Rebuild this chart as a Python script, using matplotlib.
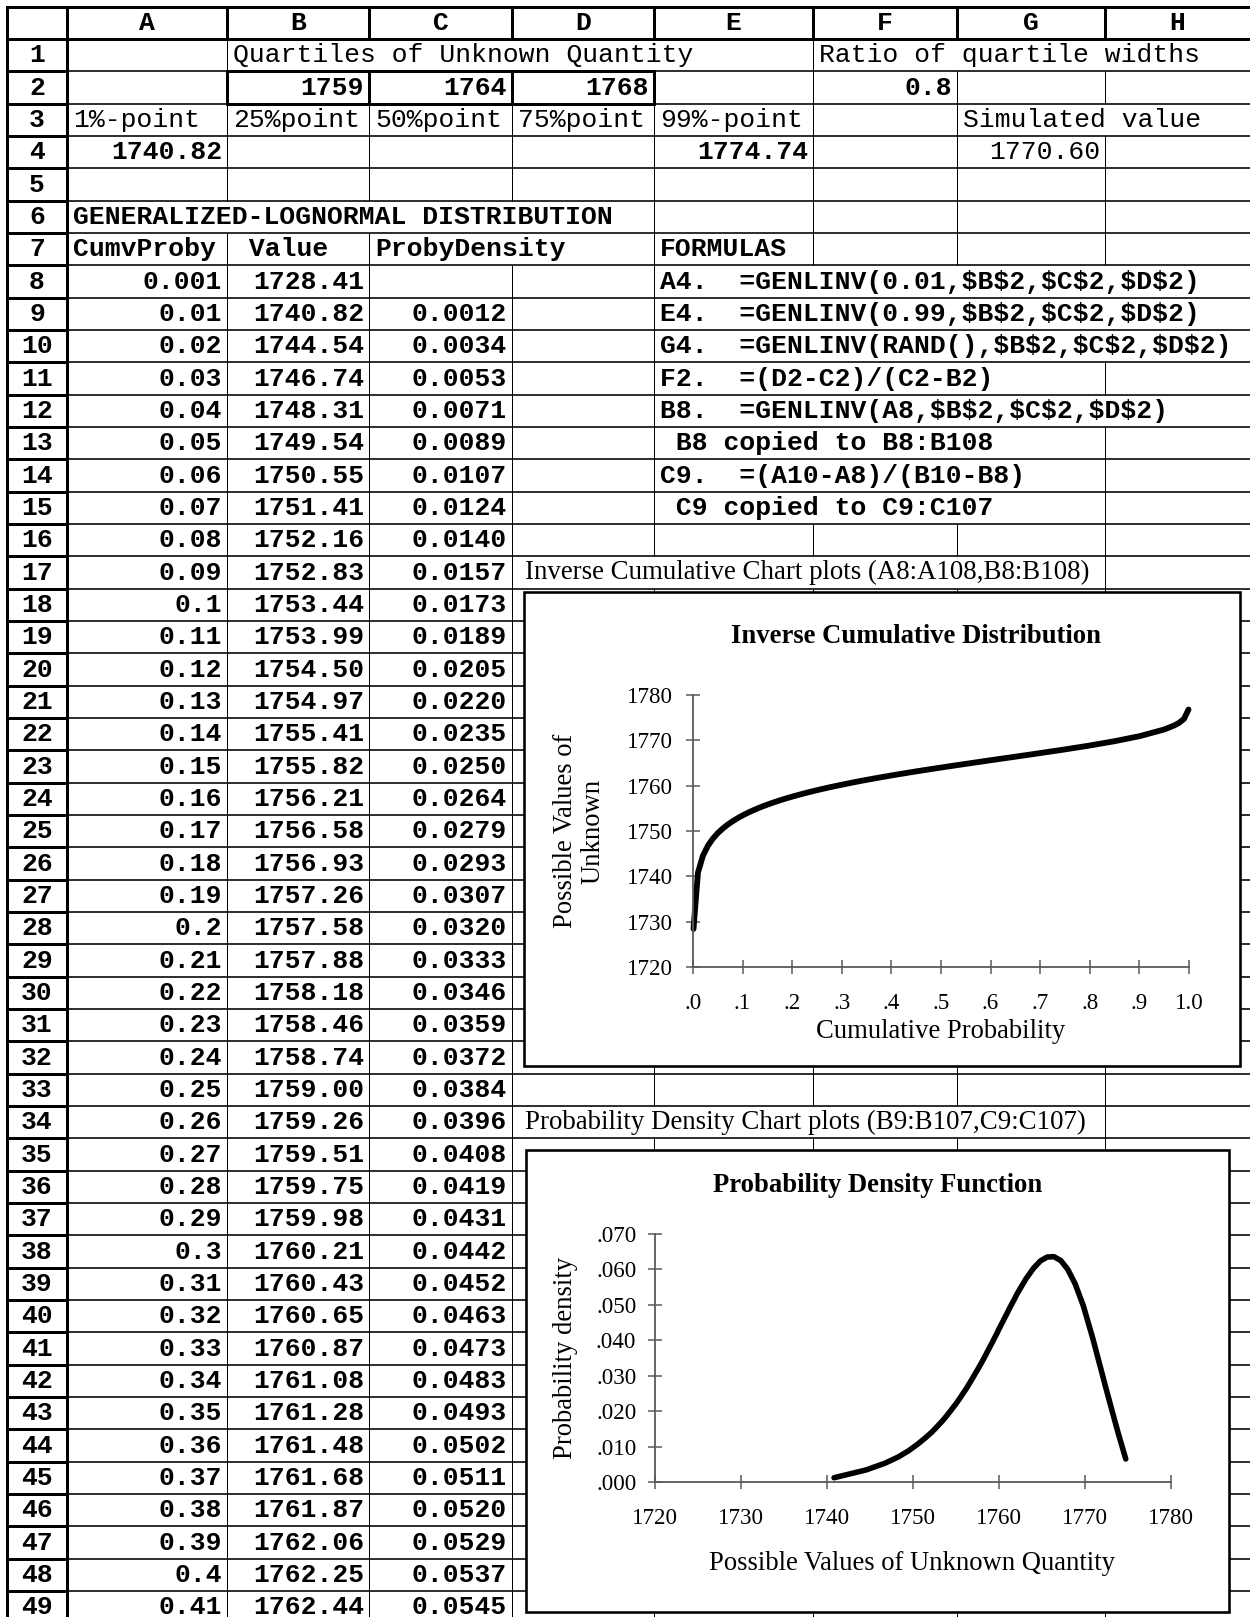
import matplotlib
matplotlib.use("Agg")
import matplotlib.pyplot as plt
from matplotlib.patches import Rectangle
from matplotlib.collections import LineCollection

# ---------------- data ----------------
col_letters = ["A", "B", "C", "D", "E", "F", "G", "H"]
quartile_values = [1759, 1764, 1768]          # B2:D2
ratio_quartile_widths = 0.8                   # F2
point_labels = ["1%-point", "25%point", "50%point", "75%point", "99%-point"]
one_pct_point = "1740.82"                     # A4
ninety_nine_pct_point = "1774.74"             # E4
simulated_value = "1770.60"                   # G4
table_headers = ["CumvProby", " Value", "ProbyDensity"]

cum_prob = [0.001, 0.01, 0.02, 0.03, 0.04, 0.05, 0.06, 0.07, 0.08, 0.09, 0.1,
            0.11, 0.12, 0.13, 0.14, 0.15, 0.16, 0.17, 0.18, 0.19, 0.2,
            0.21, 0.22, 0.23, 0.24, 0.25, 0.26, 0.27, 0.28, 0.29, 0.3,
            0.31, 0.32, 0.33, 0.34, 0.35, 0.36, 0.37, 0.38, 0.39, 0.4, 0.41]
values = [1728.41, 1740.82, 1744.54, 1746.74, 1748.31, 1749.54, 1750.55, 1751.41,
          1752.16, 1752.83, 1753.44, 1753.99, 1754.50, 1754.97, 1755.41, 1755.82,
          1756.21, 1756.58, 1756.93, 1757.26, 1757.58, 1757.88, 1758.18, 1758.46,
          1758.74, 1759.00, 1759.26, 1759.51, 1759.75, 1759.98, 1760.21, 1760.43,
          1760.65, 1760.87, 1761.08, 1761.28, 1761.48, 1761.68, 1761.87, 1762.06,
          1762.25, 1762.44]
density = [0.0012, 0.0034, 0.0053, 0.0071, 0.0089, 0.0107, 0.0124, 0.0140, 0.0157,
           0.0173, 0.0189, 0.0205, 0.0220, 0.0235, 0.0250, 0.0264, 0.0279, 0.0293,
           0.0307, 0.0320, 0.0333, 0.0346, 0.0359, 0.0372, 0.0384, 0.0396, 0.0408,
           0.0419, 0.0431, 0.0442, 0.0452, 0.0463, 0.0473, 0.0483, 0.0493, 0.0502,
           0.0511, 0.0520, 0.0529, 0.0537, 0.0545]   # rows 9..49

# chart points beyond the visible table rows
upper_cum_prob = [0.45, 0.50, 0.55, 0.60, 0.65, 0.70, 0.75, 0.80, 0.85, 0.90,
                  0.95, 0.97, 0.98, 0.99, 0.999]
upper_values = [1763.15, 1764.00, 1764.81, 1765.61, 1766.39, 1767.19, 1768.00,
                1768.86, 1769.81, 1770.91, 1772.39, 1773.27, 1773.86, 1774.74,
                1776.80]
upper_density = [0.0574, 0.0603, 0.0624, 0.0635, 0.0636, 0.0625, 0.0600, 0.0559,
                 0.0497, 0.0405, 0.0269, 0.0190, 0.0138, 0.0065]

formula_lines = ["A4.  =GENLINV(0.01,$B$2,$C$2,$D$2)",
                 "E4.  =GENLINV(0.99,$B$2,$C$2,$D$2)",
                 "G4.  =GENLINV(RAND(),$B$2,$C$2,$D$2)",
                 "F2.  =(D2-C2)/(C2-B2)",
                 "B8.  =GENLINV(A8,$B$2,$C$2,$D$2)",
                 " B8 copied to B8:B108",
                 "C9.  =(A10-A8)/(B10-B8)",
                 " C9 copied to C9:C107"]

inv_xticks = [0.0, 0.1, 0.2, 0.3, 0.4, 0.5, 0.6, 0.7, 0.8, 0.9, 1.0]
inv_xtick_labels = [".0", ".1", ".2", ".3", ".4", ".5", ".6", ".7", ".8", ".9", "1.0"]
inv_yticks = [1720, 1730, 1740, 1750, 1760, 1770, 1780]
pdf_xticks = [1720, 1730, 1740, 1750, 1760, 1770, 1780]
pdf_yticks = [0.0, 0.01, 0.02, 0.03, 0.04, 0.05, 0.06, 0.07]
pdf_ytick_labels = [".000", ".010", ".020", ".030", ".040", ".050", ".060", ".070"]

# ---------------- layout ----------------
W, H = 1250, 1617
PT = 0.72  # points per pixel at 100 dpi
plt.rcParams["font.family"] = ["Liberation Serif", "DejaVu Serif"]
MONO = ["Liberation Mono", "DejaVu Sans Mono"]
MFS = 19

fig = plt.figure(figsize=(W / 100, H / 100), dpi=100)
bg = fig.add_axes([0, 0, 1, 1])
bg.set_xlim(0, W)
bg.set_ylim(H, 0)
bg.axis("off")

col_edges = [7, 67, 227, 369, 512, 654, 813, 957, 1105, 1250]
RH = 32.33
NROWS = 49


def row_top(r):
    return 7 if r == 0 else 39 + RH * (r - 1)


def row_bot(r):
    return 39 if r == 0 else 39 + RH * r


# vertical boundaries hidden by overflowing text  (row -> boundary indices)
hidden = {1: {3, 4, 5, 7, 8}, 3: {8}, 6: {2, 3, 4}, 7: {4},
          8: {6, 7, 8}, 9: {6, 7, 8}, 10: {6, 7, 8}, 11: {6, 7}, 12: {6, 7, 8},
          13: {6, 7}, 14: {6, 7}, 15: {6, 7}, 17: {5, 6, 7}, 34: {5, 6, 7}}

thin_v, thin_h, thick = [], [], []
for r in range(1, NROWS + 1):
    y0, y1 = row_top(r), min(row_bot(r), H)
    for j in range(2, 9):
        if j in hidden.get(r, set()):
            continue
        thin_v.append([(col_edges[j], y0), (col_edges[j], y1)])
    thin_h.append([(col_edges[1], row_bot(r)), (W, row_bot(r))])
    thick.append([(col_edges[0], row_bot(r)), (col_edges[1], row_bot(r))])
# header row
for j in range(2, 9):
    thick.append([(col_edges[j], 7), (col_edges[j], 39)])
thick.append([(col_edges[0], 7), (W, 7)])
thick.append([(col_edges[0], 39), (W, 39)])
thick.append([(col_edges[0], 7), (col_edges[0], H)])
thick.append([(col_edges[1], 7), (col_edges[1], H)])
# B2:D2 boxes
thick.append([(col_edges[2], row_top(2)), (col_edges[5], row_top(2))])
thick.append([(col_edges[2], row_bot(2)), (col_edges[5], row_bot(2))])
for j in range(2, 6):
    thick.append([(col_edges[j], row_top(2)), (col_edges[j], row_bot(2))])

bg.add_collection(LineCollection(thin_v, colors="black", linewidths=1.0 * PT, zorder=1))
bg.add_collection(LineCollection(thin_h, colors="black", linewidths=1.6 * PT, zorder=1))
bg.add_collection(LineCollection(thick, colors="black", linewidths=3.0 * PT, zorder=2,
                                 capstyle="projecting"))


def cell(r, c, s, ha="left", bold=True, family=MONO, size=MFS):
    if ha == "left":
        x = col_edges[c] + 6
    elif ha == "right":
        x = col_edges[c + 1] - 5
    else:
        x = (col_edges[c] + col_edges[c + 1]) / 2
    y = row_bot(r) - 9
    bg.text(x, y, s, ha=ha, va="baseline", family=family, size=size,
            weight="bold" if bold else "normal", zorder=3, parse_math=False)


# column / row headers
for i, L in enumerate(col_letters):
    cell(0, i + 1, L, ha="center")
for r in range(1, NROWS + 1):
    cell(r, 0, str(r), ha="center")

# top block
cell(1, 2, "Quartiles of Unknown Quantity", bold=False)
cell(1, 6, "Ratio of quartile widths", bold=False)
for k, q in enumerate(quartile_values):
    cell(2, 2 + k, str(q), ha="right")
cell(2, 6, f"{ratio_quartile_widths:g}", ha="right")
for k, lab in enumerate(point_labels):
    cell(3, 1 + k, lab, bold=False)
cell(3, 7, "Simulated value", bold=False)
cell(4, 1, one_pct_point, ha="right")
cell(4, 5, ninety_nine_pct_point, ha="right")
cell(4, 7, simulated_value, ha="right", bold=False)
cell(6, 1, "GENERALIZED-LOGNORMAL DISTRIBUTION")
for k, h in enumerate(table_headers):
    cell(7, 1 + k, h)
cell(7, 5, "FORMULAS")
for k, f in enumerate(formula_lines):
    cell(8 + k, 5, f)

# table body
for k, (p, v) in enumerate(zip(cum_prob, values)):
    r = 8 + k
    cell(r, 1, f"{p:g}", ha="right")
    cell(r, 2, f"{v:.2f}", ha="right")
for k, d in enumerate(density):
    cell(9 + k, 3, f"{d:.4f}", ha="right")

# chart captions
SFS = 26.9 * PT
bg.text(525, (row_top(17) + row_bot(17)) / 2, "Inverse Cumulative Chart plots (A8:A108,B8:B108)",
        ha="left", va="center", size=SFS, zorder=3)
bg.text(525, (row_top(34) + row_bot(34)) / 2, "Probability Density Chart plots (B9:B107,C9:C107)",
        ha="left", va="center", size=SFS, zorder=3)

# chart frames
bg.add_patch(Rectangle((524, 592), 1240 - 524, 1066 - 592, facecolor="white",
                       edgecolor="black", linewidth=2.6 * PT, zorder=5))
bg.add_patch(Rectangle((526, 1150), 1229 - 526, 1612 - 1150, facecolor="white",
                       edgecolor="black", linewidth=2.6 * PT, zorder=5))


def px_axes(x0, y0, x1, y1):
    return fig.add_axes([x0 / W, 1 - y1 / H, (x1 - x0) / W, (y1 - y0) / H])


AXC = "#5a5a5a"
TFS = 23 * PT
LFS = 26.6 * PT


def style(ax):
    ax.patch.set_visible(False)
    for s in ("top", "right"):
        ax.spines[s].set_visible(False)
    for s in ("left", "bottom"):
        ax.spines[s].set_color(AXC)
        ax.spines[s].set_linewidth(1.3)
    ax.tick_params(direction="inout", length=10, width=1.1, color=AXC,
                   labelcolor="black", labelsize=TFS)


# ---- inverse cumulative chart ----
ax1 = px_axes(693, 695, 1189, 967)
style(ax1)
ax1.plot(cum_prob + upper_cum_prob, values + upper_values, color="black", lw=4.2,
         solid_capstyle="round", solid_joinstyle="round", clip_on=False)
ax1.set_xlim(0, 1)
ax1.set_ylim(1720, 1780)
ax1.set_xticks(inv_xticks)
ax1.set_xticklabels(inv_xtick_labels)
ax1.set_yticks(inv_yticks)
ax1.tick_params(axis="x", pad=13.5)
ax1.tick_params(axis="y", pad=9.5)
ax1.set_xlabel("Cumulative Probability", size=LFS)
ax1.xaxis.set_label_coords(0.5, (967 - 1032) / 272)
ax1.xaxis.label.set_va("center")
ax1.set_ylabel("Possible Values of\nUnknown", size=LFS, linespacing=1.15)
ax1.yaxis.set_label_coords((579 - 693) / 496, 0.5)
ax1.yaxis.label.set_va("center")
ax1.text((916 - 693) / 496, (967 - 636) / 272, "Inverse Cumulative Distribution",
         transform=ax1.transAxes, ha="center", va="center", size=LFS, weight="bold")

# ---- probability density chart ----
ax2 = px_axes(655, 1234, 1171, 1482)
style(ax2)
ax2.plot(values[1:] + upper_values[:-1], density + upper_density, color="black", lw=4.0,
         solid_capstyle="round", solid_joinstyle="round", clip_on=False)
ax2.set_xlim(1720, 1780)
ax2.set_ylim(0, 0.07)
ax2.set_xticks(pdf_xticks)
ax2.set_yticks(pdf_yticks)
ax2.set_yticklabels(pdf_ytick_labels)
ax2.tick_params(axis="x", pad=14.0)
ax2.tick_params(axis="y", pad=8.5)
ax2.set_xlabel("Possible Values of Unknown Quantity", size=LFS)
ax2.xaxis.set_label_coords((912 - 655) / 516, (1482 - 1563) / 248)
ax2.xaxis.label.set_va("center")
ax2.set_ylabel("Probability density", size=LFS)
ax2.yaxis.set_label_coords((565 - 655) / 516, (1482 - 1358) / 248)
ax2.yaxis.label.set_va("center")
ax2.text((878 - 655) / 516, (1482 - 1186) / 248, "Probability Density Function",
         transform=ax2.transAxes, ha="center", va="center", size=LFS, weight="bold")

fig.savefig("out.png", dpi=100)
